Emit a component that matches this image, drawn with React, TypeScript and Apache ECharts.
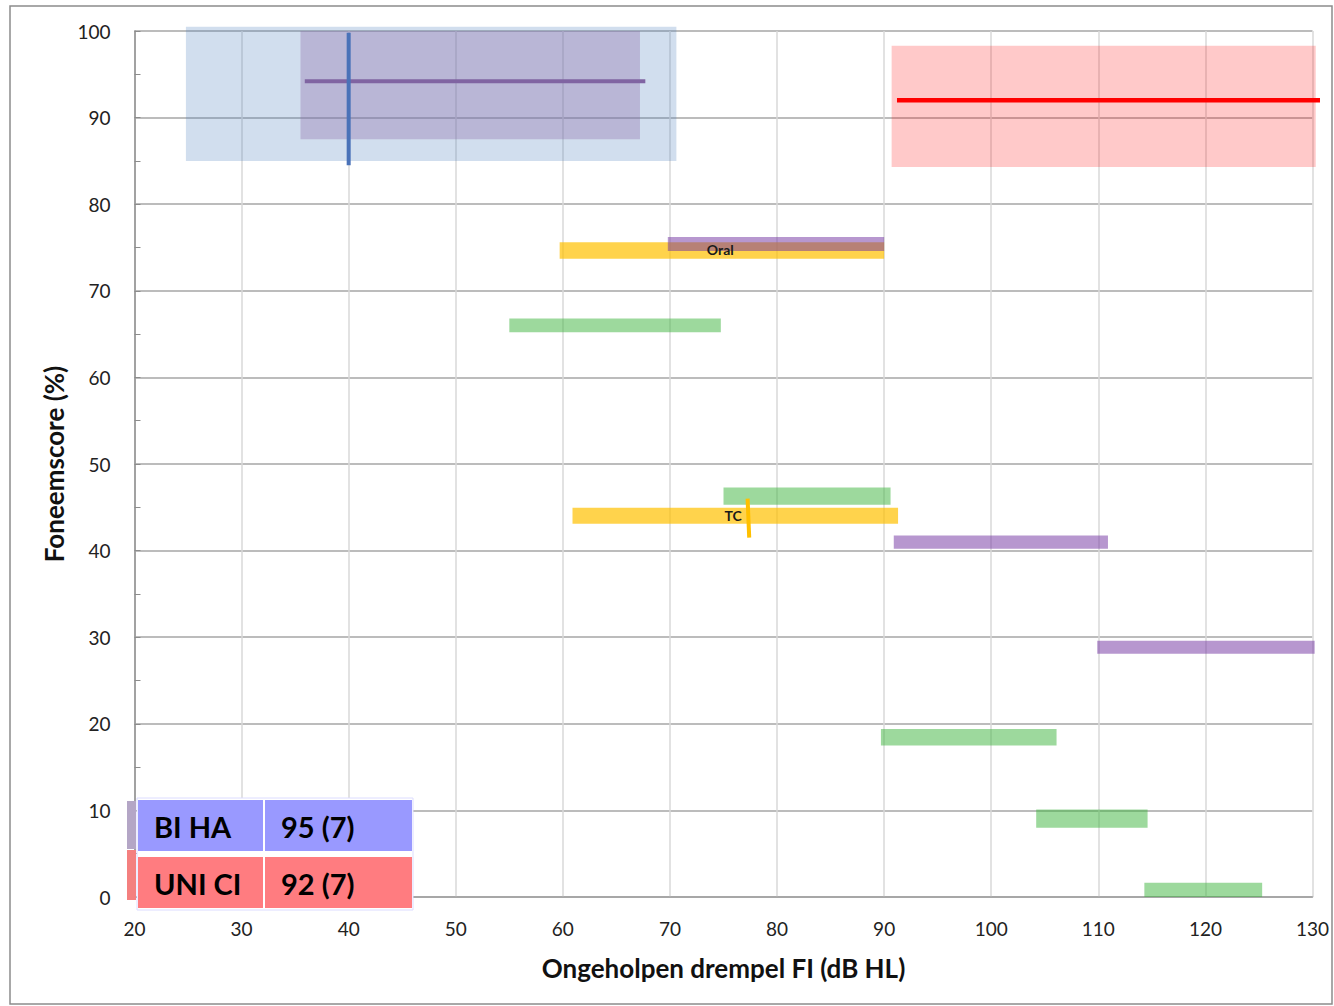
import React, { useEffect, useRef } from "react";
import * as echarts from "echarts";

// ---- data (x = dB HL, y = phoneme score %) ----
const xTicks = [20, 30, 40, 50, 60, 70, 80, 90, 100, 110, 120, 130];
const yTicks = [0, 10, 20, 30, 40, 50, 60, 70, 80, 90, 100];

// ranges: [x0, x1, y0, y1]
const biHaRange = [[24.8, 70.6, 85.0, 100.5]];
const biHaIqr = [[35.5, 67.2, 87.5, 100.0]];
const uniCiRange = [[90.7, 130.3, 84.3, 98.3]];
const greenBars = [
  [55.0, 74.75, 65.2, 66.8],
  [75.0, 90.6, 45.3, 47.3],
  [89.7, 106.1, 17.5, 19.4],
  [104.2, 114.6, 8.0, 10.1],
  [114.3, 125.3, 0.0, 1.65],
];
const orangeBars = [
  [59.7, 90.0, 73.7, 75.6],
  [60.9, 91.3, 43.1, 44.95],
];
const purpleBars = [
  [69.8, 90.0, 74.6, 76.2],
  [90.9, 110.9, 40.2, 41.75],
  [109.9, 130.2, 28.1, 29.6],
];
// lines: [x0, y0, x1, y1]
const biHaMeanH = [[35.9, 94.2, 67.7, 94.2]];
const biHaMeanV = [[40.0, 84.5, 40.0, 99.8]];
const uniCiMean = [[91.2, 92.0, 130.7, 92.0]];
const tcMarker = [[77.25, 46.0, 77.4, 41.5]];
// labels: [x, y, text]
const barLabels = [
  [74.7, 74.8, "Oral"],
  [75.9, 44.0, "TC"],
];
// table
const tableRows = [
  ["BI HA", "95 (7)"],
  ["UNI CI", "92 (7)"],
];

const rectSeries = (name: string, data: number[][], fill: string, z: number) => ({
  type: "custom",
  name,
  data,
  z,
  silent: true,
  clip: false,
  encode: { x: [0, 1], y: [2, 3] },
  renderItem: (_p: any, api: any) => {
    const a = api.coord([api.value(0), api.value(3)]);
    const b = api.coord([api.value(1), api.value(2)]);
    return {
      type: "rect",
      shape: { x: a[0], y: a[1], width: b[0] - a[0], height: b[1] - a[1] },
      style: { fill },
    };
  },
});

const lineSeries = (name: string, data: number[][], stroke: string, width: number, z: number) => ({
  type: "custom",
  name,
  data,
  z,
  silent: true,
  clip: false,
  encode: { x: [0, 2], y: [1, 3] },
  renderItem: (_p: any, api: any) => {
    const a = api.coord([api.value(0), api.value(1)]);
    const b = api.coord([api.value(2), api.value(3)]);
    return {
      type: "line",
      shape: { x1: a[0], y1: a[1], x2: b[0], y2: b[1] },
      style: { stroke, lineWidth: width },
    };
  },
});

const FONT = "Lato, 'Open Sans', sans-serif";

export default function App() {
  const ref = useRef<HTMLDivElement>(null);
  useEffect(() => {
    if (!ref.current) return;
    const chart = echarts.init(ref.current, null, { renderer: "svg" });

    // table geometry (annotation box, pixel layout)
    const tx = 138, colW = [125, 147], rowH = 51, ty = 800, gap = 6;
    const rowColors = ["#9999ff", "#ff7c80"];
    const tableEls: any[] = [];
    tableEls.push({ type: "rect", shape: { x: 127, y: 801, width: 9, height: 48 }, style: { fill: "#b4a6c6" }, z: 100 });
    tableEls.push({ type: "rect", shape: { x: 127, y: 850, width: 9, height: 50 }, style: { fill: "#f4807f" }, z: 100 });
    tableEls.push({ type: "rect", shape: { x: tx - 1, y: ty - 2, width: colW[0] + colW[1] + 4, height: 2 * rowH + gap + 4 }, style: { fill: "#ffffff", stroke: "#dcdcff", lineWidth: 1 }, z: 100 });
    tableRows.forEach((row, i) => {
      const y = ty + i * (rowH + gap);
      let x = tx;
      row.forEach((cell, j) => {
        tableEls.push({ type: "rect", shape: { x, y, width: colW[j], height: rowH }, style: { fill: rowColors[i] }, z: 101 });
        tableEls.push({
          type: "text",
          x: x + 16,
          y: y + rowH / 2 + 1,
          style: { text: cell, fill: "#000", font: `bold 29px ${FONT}`, textVerticalAlign: "middle" },
          z: 102,
        });
        x += colW[j] + 2;
      });
    });

    chart.setOption({
      animation: false,
      backgroundColor: "#ffffff",
      grid: { left: 134.5, right: 21.5, top: 31, bottom: 109, containLabel: false },
      xAxis: {
        type: "value",
        min: 20,
        max: 130,
        interval: 10,
        name: "Ongeholpen drempel FI (dB HL)",
        nameLocation: "middle",
        nameGap: 58,
        nameTextStyle: { fontFamily: FONT, fontWeight: "bold", fontSize: 26, color: "#111" },
        axisLine: { show: true, lineStyle: { color: "#a0a0a0", width: 1.5 } },
        axisTick: { show: false },
        axisLabel: {
          margin: 22,
          fontFamily: FONT,
          fontSize: 19,
          color: "#222",
          formatter: (v: number) => (xTicks.includes(v) ? String(v) : ""),
        },
        splitLine: { show: true, lineStyle: { color: "#d9d9d9", width: 1.5 } },
      },
      yAxis: {
        type: "value",
        min: 0,
        max: 100,
        interval: 10,
        name: "Foneemscore (%)",
        nameLocation: "middle",
        nameGap: 67,
        nameTextStyle: { fontFamily: FONT, fontWeight: "bold", fontSize: 26, color: "#111" },
        axisLine: { show: true, lineStyle: { color: "#8c8c8c", width: 1.5 } },
        axisTick: { show: true, inside: true, length: 6, lineStyle: { color: "#8c8c8c" } },
        minorTick: { show: true, splitNumber: 2, length: 6, lineStyle: { color: "#8c8c8c", width: 1 } },
        axisLabel: {
          margin: 24,
          fontFamily: FONT,
          fontSize: 19,
          color: "#222",
          formatter: (v: number) => (yTicks.includes(v) ? String(v) : ""),
        },
        splitLine: { show: true, lineStyle: { color: "#a6a6a6", width: 1.5 } },
      },
      graphic: [
        { type: "rect", shape: { x: 10, y: 6, width: 1322, height: 998 }, style: { fill: "none", stroke: "#8c8c8c", lineWidth: 1.5 }, z: -10, silent: true },
        ...tableEls,
      ],
      series: [
        rectSeries("BI HA range", biHaRange, "rgba(79,129,189,0.26)", 2),
        rectSeries("BI HA iqr", biHaIqr, "rgba(140,110,170,0.35)", 3),
        rectSeries("UNI CI range", uniCiRange, "rgba(255,0,0,0.21)", 2),
        rectSeries("green", greenBars, "rgba(60,180,60,0.5)", 4),
        rectSeries("orange", orangeBars, "rgba(255,192,0,0.7)", 5),
        rectSeries("purple", purpleBars, "rgba(112,48,160,0.5)", 6),
        lineSeries("BI HA mean H", biHaMeanH, "#8064a2", 4, 7),
        lineSeries("BI HA mean V", biHaMeanV, "#4a72b8", 4, 8),
        lineSeries("UNI CI mean", uniCiMean, "#ff0000", 4.5, 7),
        lineSeries("TC marker", tcMarker, "#ffc000", 4, 9),
        {
          type: "custom",
          name: "labels",
          data: barLabels,
          z: 10,
          silent: true,
          clip: false,
          encode: { x: 0, y: 1 },
          renderItem: (_p: any, api: any) => {
            const p = api.coord([api.value(0), api.value(1)]);
            return {
              type: "text",
              x: p[0],
              y: p[1],
              style: {
                text: String(api.value(2)),
                fill: "#1a1a1a",
                font: `bold 14px ${FONT}`,
                textAlign: "center",
                textVerticalAlign: "middle",
              },
            };
          },
        },
      ],
    });
    return () => chart.dispose();
  }, []);
  return (
    <div
      ref={ref}
      style={{ position: "fixed", left: 0, top: 0, width: 1334, height: 1006, background: "#fff" }}
    />
  );
}
